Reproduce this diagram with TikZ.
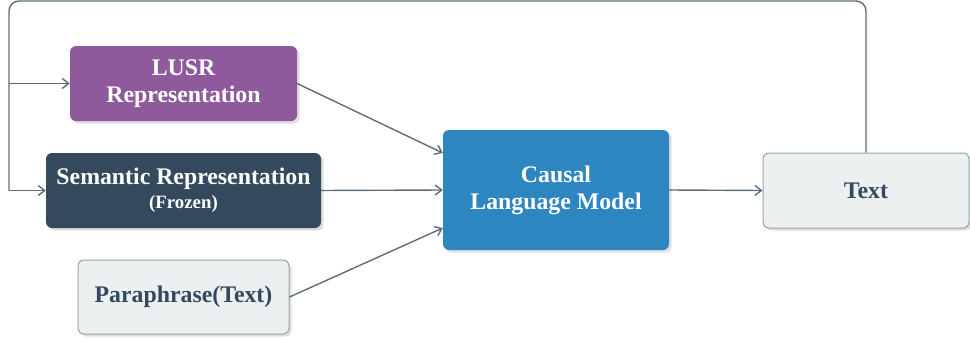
\documentclass[tikz,border=0pt]{standalone}
\usepackage{fontspec}
\setmainfont{Liberation Serif}
\usetikzlibrary{arrows.meta,calc,shadows}
\definecolor{cPurple}{HTML}{8E5A9B}
\definecolor{cDark}{HTML}{34495E}
\definecolor{cBlue}{HTML}{2E86C1}
\definecolor{cLight}{HTML}{ECF0F1}
\definecolor{cBorder}{HTML}{95A5A6}
\definecolor{cLine}{HTML}{5D6D7E}
\begin{document}
\begin{tikzpicture}[x=1pt,y=-1pt,
  box/.style={rounded corners=6pt, inner sep=0pt, align=center,
    font=\fontsize{23.8}{27}\selectfont\bfseries,
    drop shadow={shadow xshift=2.5pt,shadow yshift=-2.5pt,fill=black!25,opacity=.5}},
  filledbox/.style={box, fill=#1, text=white},
  lightbox/.style={box, fill=cLight, draw=cBorder, line width=1pt, text=cDark},
  conn/.style={draw=cLine, line width=1.4pt},
  arr/.style={conn, -{Straight Barb[length=6.5pt,width=10pt,line width=1.4pt]}}]
\useasboundingbox (0,0) rectangle (970,340);

\node[filledbox=cPurple, minimum width=227pt, minimum height=75pt] (lusr) at (183.5,83.5)
  {LUSR\\Representation};
\node[filledbox=cDark, minimum width=275pt, minimum height=75pt] (sem) at (183.5,190.5)
  {Semantic Representation\\[-3pt]{\fontsize{18.8}{20}\selectfont(Frozen)}};
\node[lightbox, minimum width=211pt, minimum height=74pt] (para) at (183.5,297)
  {Paraphrase(Text)};
\node[filledbox=cBlue, minimum width=226pt, minimum height=120pt] (clm) at (556,190)
  {Causal\\Language Model};
\node[lightbox, minimum width=206pt, minimum height=75pt] (txt) at (866,190.5)
  {Text};

\coordinate (tl) at (9,1);
\coordinate (bl) at (9,190.5);
\coordinate (br) at (9,83.5);

\draw[conn, rounded corners=10pt] (txt.north) |- (tl) -- (bl);
\draw[arr] (bl) -- (sem.west);
\draw[arr] (br) -- (lusr.west);

\draw[arr] (lusr.east) -- ($(clm.west)+(0,-37)$);
\draw[arr] (sem.east) -- (clm.west);
\draw[arr] (para.east) -- ($(clm.west)+(0,38)$);
\draw[arr] (clm.east) -- (txt.west);
\end{tikzpicture}
\end{document}
